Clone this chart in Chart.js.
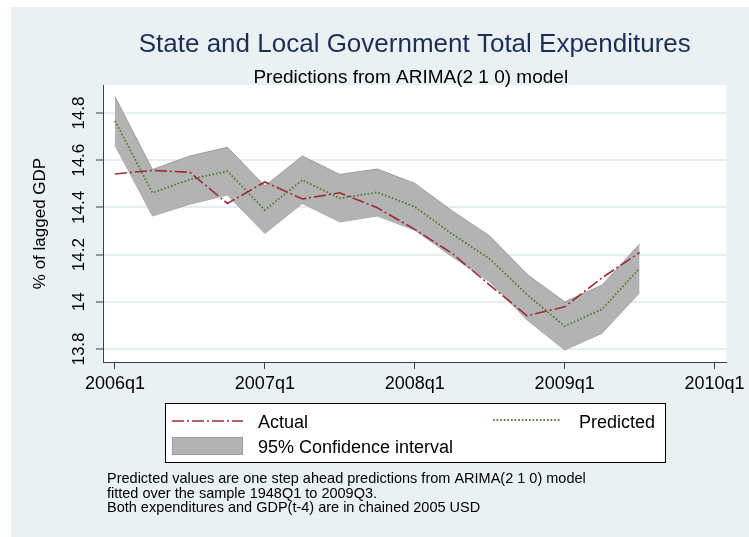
<!DOCTYPE html>
<html>
<head>
<meta charset="utf-8">
<script src="https://cdn.jsdelivr.net/npm/chart.js@4.4.0/dist/chart.umd.min.js"></script>
<style>
    html, body { margin: 0; padding: 0; background: #ffffff; }
    #wrap { width: 749px; height: 537px; }
</style>
</head>
<body>
<div id="wrap"><canvas id="arima-chart" width="749" height="537"></canvas></div>
<script>
const quarters = ['2006q1', '2006q2', '2006q3', '2006q4', '2007q1', '2007q2', '2007q3', '2007q4',
                  '2008q1', '2008q2', '2008q3', '2008q4', '2009q1', '2009q2', '2009q3'];
const quarterIndex = [0, 1, 2, 3, 4, 5, 6, 7, 8, 9, 10, 11, 12, 13, 14];

const actual    = [14.542, 14.557, 14.549, 14.417, 14.508, 14.436, 14.462, 14.399,
                   14.307, 14.205, 14.071, 13.941, 13.979, 14.102, 14.209];
const predicted = [14.767, 14.462, 14.519, 14.554, 14.389, 14.516, 14.439, 14.464,
                   14.403, 14.287, 14.182, 14.030, 13.897, 13.969, 14.142];
const ciUpper   = [14.869, 14.561, 14.618, 14.655, 14.491, 14.618, 14.540, 14.563,
                   14.502, 14.385, 14.279, 14.116, 14.000, 14.071, 14.245];
const ciLower   = [14.664, 14.364, 14.414, 14.453, 14.290, 14.417, 14.339, 14.364,
                   14.304, 14.191, 14.085, 13.923, 13.796, 13.867, 14.039];

const xTickValues = [0, 4, 8, 12, 16];
const xTickLabels = ['2006q1', '2007q1', '2008q1', '2009q1', '2010q1'];
const yTickValues = [13.8, 14, 14.2, 14.4, 14.6, 14.8];

const titleText = 'State and Local Government Total Expenditures';
const subtitleText = 'Predictions from ARIMA(2 1 0) model';
const yAxisTitle = '% of lagged GDP';
const legendLabels = ['Actual', 'Predicted', '95% Confidence interval'];
const noteLines = [
    'Predicted values are one step ahead predictions from ARIMA(2 1 0) model',
    'fitted over the sample 1948Q1 to 2009Q3.',
    'Both expenditures and GDP(t-4) are in chained 2005 USD'
];

const FONT = "'Liberation Sans', Arial, Helvetica, sans-serif";
const ACTUAL_COLOR = '#9b2c36';
const PRED_COLOR = '#4f7d2b';
const BAND_COLOR = '#b3b3b3';
const BAND_EDGE = '#9c9c9c';
const ACTUAL_DASH = [12, 3, 2, 3];
const PRED_DASH = [1.6, 2];

Chart.defaults.font.family = FONT;

function toPoints(values) {
    return quarterIndex.map((q, i) => ({ x: q, y: values[i] }));
}

// Background: white margin, light bluish graph region, white plot region
const backgroundPlugin = {
    id: 'stataBackground',
    beforeDraw(chart) {
        const ctx = chart.ctx;
        const area = chart.chartArea;
        ctx.save();
        ctx.fillStyle = '#ffffff';
        ctx.fillRect(0, 0, chart.width, chart.height);
        ctx.fillStyle = '#eaf1f3';
        ctx.fillRect(11, 7, chart.width - 11, chart.height - 7);
        ctx.fillStyle = '#ffffff';
        ctx.fillRect(area.left, area.top, area.right - area.left, area.bottom - area.top);
        ctx.restore();
    }
};

// Titles, legend box and note drawn as text on the canvas
const decorPlugin = {
    id: 'stataDecor',
    afterDraw(chart) {
        const ctx = chart.ctx;
        const area = chart.chartArea;
        const cx = (area.left + area.right) / 2;
        ctx.save();

        // Titles
        ctx.textAlign = 'center';
        ctx.textBaseline = 'alphabetic';
        ctx.fillStyle = '#1f2e55';
        ctx.font = '26px ' + FONT;
        ctx.fillText(titleText, cx, 52);
        ctx.fillStyle = '#000000';
        ctx.font = '19px ' + FONT;
        ctx.fillText(subtitleText, cx - 4, 83);

        // Legend box
        ctx.fillStyle = '#ffffff';
        ctx.fillRect(165, 403, 500, 59);
        ctx.strokeStyle = '#000000';
        ctx.lineWidth = 1;
        ctx.strokeRect(165.5, 403.5, 500, 59);

        ctx.lineWidth = 1.6;
        ctx.strokeStyle = ACTUAL_COLOR;
        ctx.setLineDash(ACTUAL_DASH);
        ctx.beginPath();
        ctx.moveTo(172, 421);
        ctx.lineTo(243, 421);
        ctx.stroke();

        ctx.lineWidth = 1.8;
        ctx.strokeStyle = PRED_COLOR;
        ctx.setLineDash(PRED_DASH);
        ctx.beginPath();
        ctx.moveTo(493, 420);
        ctx.lineTo(560, 420);
        ctx.stroke();
        ctx.setLineDash([]);

        ctx.fillStyle = BAND_COLOR;
        ctx.fillRect(172, 437, 71, 18);
        ctx.strokeStyle = BAND_EDGE;
        ctx.lineWidth = 1;
        ctx.strokeRect(172.5, 437.5, 70, 17);

        ctx.fillStyle = '#000000';
        ctx.font = '18px ' + FONT;
        ctx.textAlign = 'left';
        ctx.fillText(legendLabels[0], 258, 428);
        ctx.fillText(legendLabels[2], 258, 453);
        ctx.textAlign = 'right';
        ctx.fillText(legendLabels[1], 655, 428);

        // Note
        ctx.textAlign = 'left';
        ctx.font = '14.5px ' + FONT;
        noteLines.forEach((line, i) => {
            ctx.fillText(line, 107, 483 + i * 14.5);
        });

        ctx.restore();
    }
};

const ctx = document.getElementById('arima-chart');

new Chart(ctx, {
    type: 'line',
    data: {
        datasets: [
            {
                label: legendLabels[0],
                data: toPoints(actual),
                borderColor: ACTUAL_COLOR,
                borderWidth: 1.6,
                borderDash: ACTUAL_DASH,
                pointRadius: 0,
                fill: false,
                tension: 0
            },
            {
                label: legendLabels[1],
                data: toPoints(predicted),
                borderColor: PRED_COLOR,
                borderWidth: 1.8,
                borderDash: PRED_DASH,
                pointRadius: 0,
                fill: false,
                tension: 0
            },
            {
                label: 'CI upper',
                data: toPoints(ciUpper),
                borderColor: BAND_EDGE,
                borderWidth: 1,
                backgroundColor: BAND_COLOR,
                pointRadius: 0,
                fill: '+1',
                tension: 0
            },
            {
                label: 'CI lower',
                data: toPoints(ciLower),
                borderColor: BAND_EDGE,
                borderWidth: 1,
                pointRadius: 0,
                fill: false,
                tension: 0
            }
        ]
    },
    options: {
        responsive: false,
        animation: false,
        layout: {
            padding: { left: 0, top: 85, right: 22, bottom: 135 }
        },
        plugins: {
            legend: { display: false },
            tooltip: { enabled: false },
            title: { display: false }
        },
        scales: {
            x: {
                type: 'linear',
                min: -0.32,
                max: 16.32,
                afterBuildTicks: (scale) => {
                    scale.ticks = xTickValues.map(v => ({ value: v }));
                },
                afterFit: (scale) => { scale.height = 40; },
                border: { display: true, color: '#404040', width: 1 },
                grid: {
                    drawOnChartArea: false,
                    drawTicks: true,
                    tickLength: 7,
                    tickColor: '#404040',
                    tickWidth: 1
                },
                ticks: {
                    autoSkip: false,
                    maxRotation: 0,
                    padding: 4,
                    color: '#000000',
                    font: { size: 18 },
                    callback: (value, index) => xTickLabels[index]
                }
            },
            y: {
                min: 13.745,
                max: 14.919,
                afterBuildTicks: (scale) => {
                    scale.ticks = yTickValues.map(v => ({ value: v }));
                },
                afterFit: (scale) => { scale.width = 103; },
                border: { display: true, color: '#404040', width: 1 },
                grid: {
                    color: '#e6eef1',
                    lineWidth: 2,
                    drawTicks: true,
                    tickLength: 7,
                    tickColor: '#404040',
                    tickWidth: 1
                },
                ticks: {
                    autoSkip: false,
                    minRotation: 90,
                    maxRotation: 90,
                    crossAlign: 'center',
                    padding: 0,
                    color: '#000000',
                    font: { size: 17 },
                    callback: (value) => String(Math.round(value * 10) / 10)
                },
                title: {
                    display: true,
                    text: yAxisTitle,
                    color: '#000000',
                    font: { size: 17 },
                    padding: { top: 30, bottom: 0 }
                }
            }
        }
    },
    plugins: [backgroundPlugin, decorPlugin]
});
</script>
</body>
</html>
